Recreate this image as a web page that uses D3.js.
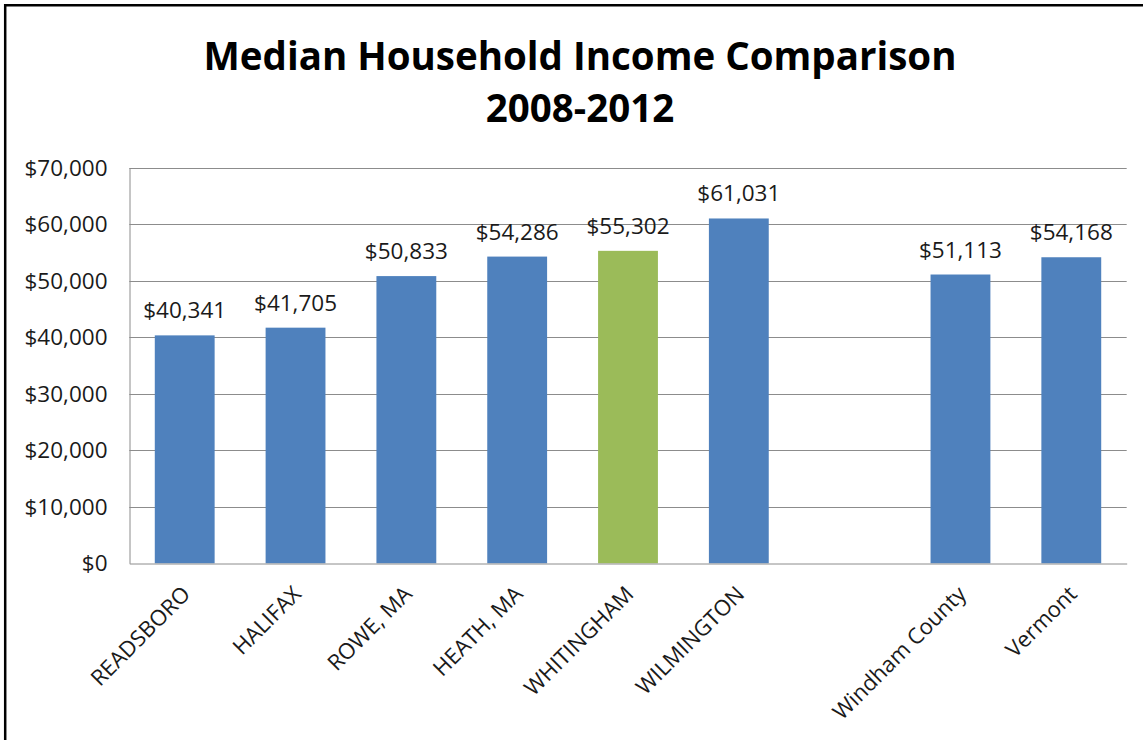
<!DOCTYPE html>
<html>
<head>
<meta charset="utf-8">
<script src="https://cdn.jsdelivr.net/npm/d3@7/dist/d3.min.js"></script>
<style>
  html, body { margin: 0; padding: 0; background: #fff; }
  svg { display: block; }
  text { font-family: "Open Sans", "Noto Sans", sans-serif; }
</style>
</head>
<body>
<svg id="chart" width="1143" height="740"></svg>
<script>
const titleLines = ["Median Household Income Comparison", "2008-2012"];
const categories = ["READSBORO", "HALIFAX", "ROWE, MA", "HEATH, MA", "WHITINGHAM", "WILMINGTON", "", "Windham County", "Vermont"];
const values = [40341, 41705, 50833, 54286, 55302, 61031, null, 51113, 54168];
const highlighted = ["WHITINGHAM"];
const yTicks = [0, 10000, 20000, 30000, 40000, 50000, 60000, 70000];

const W = 1143, H = 740;
const plot = { left: 129.3, right: 1126.7, top: 167.8, bottom: 563.3 };

const svg = d3.select("#chart");

// outer frame (left and top edges visible)
svg.append("path")
  .attr("d", `M5.2,${H} L5.2,5.3 L${W},5.3`)
  .attr("fill", "none")
  .attr("stroke", "#000")
  .attr("stroke-width", 2.5);

// title
const title = svg.append("text")
  .attr("text-anchor", "middle")
  .attr("font-weight", "bold")
  .attr("font-size", 38.5)
  .attr("fill", "#000");
title.append("tspan").attr("x", 580).attr("y", 70).text(titleLines[0]);
title.append("tspan").attr("x", 580).attr("y", 122).text(titleLines[1]);

const x = d3.scaleBand()
  .domain(categories)
  .range([plot.left, plot.right])
  .paddingInner(0.46)
  .paddingOuter(0.23);

const y = d3.scaleLinear()
  .domain([0, 70000])
  .range([plot.bottom, plot.top]);

const fmt = d3.format("$,.0f");

// gridlines
svg.append("g")
  .selectAll("line")
  .data(yTicks.filter(d => d > 0))
  .join("line")
  .attr("x1", plot.left).attr("x2", plot.right)
  .attr("y1", d => Math.round(y(d)) + 0.5).attr("y2", d => Math.round(y(d)) + 0.5)
  .attr("stroke", "#8c8c8c")
  .attr("stroke-width", 1);

// y axis
const yAxis = svg.append("g")
  .attr("transform", `translate(${Math.round(plot.left) + 0.5},0)`)
  .call(d3.axisLeft(y).tickValues(yTicks).tickFormat(fmt).tickSize(0).tickPadding(22));
yAxis.select(".domain").attr("stroke", "#8c8c8c");
yAxis.selectAll("text")
  .attr("font-family", "Open Sans")
  .attr("font-size", 22.5)
  .attr("fill", "#1a1a1a")
  .attr("dy", "0.34em");

// bars
svg.append("g")
  .selectAll("rect")
  .data(categories.map((c, i) => ({ c, v: values[i] })).filter(d => d.v != null))
  .join("rect")
  .attr("x", d => x(d.c))
  .attr("width", x.bandwidth())
  .attr("y", d => y(d.v))
  .attr("height", d => y(0) - y(d.v))
  .attr("fill", d => highlighted.includes(d.c) ? "#9BBB59" : "#4F81BD");

// value labels
svg.append("g")
  .selectAll("text")
  .data(categories.map((c, i) => ({ c, v: values[i] })).filter(d => d.v != null))
  .join("text")
  .attr("x", d => x(d.c) + x.bandwidth() / 2)
  .attr("y", d => y(d.v) - 17)
  .attr("text-anchor", "middle")
  .attr("font-size", 22.5)
  .attr("fill", "#1a1a1a")
  .text(d => fmt(d.v));

// x axis
const xAxis = svg.append("g")
  .attr("transform", `translate(0,${Math.round(plot.bottom) + 0.5})`)
  .call(d3.axisBottom(x).tickSize(0).tickSizeOuter(0));
xAxis.select(".domain").attr("stroke", "#8c8c8c");
xAxis.selectAll(".tick text")
  .attr("font-family", "Open Sans")
  .attr("font-size", 22)
  .attr("fill", "#1a1a1a")
  .attr("text-anchor", "end")
  .attr("dy", 0)
  .attr("y", 0)
  .attr("transform", "translate(7,32) rotate(-45)");
</script>
</body>
</html>
